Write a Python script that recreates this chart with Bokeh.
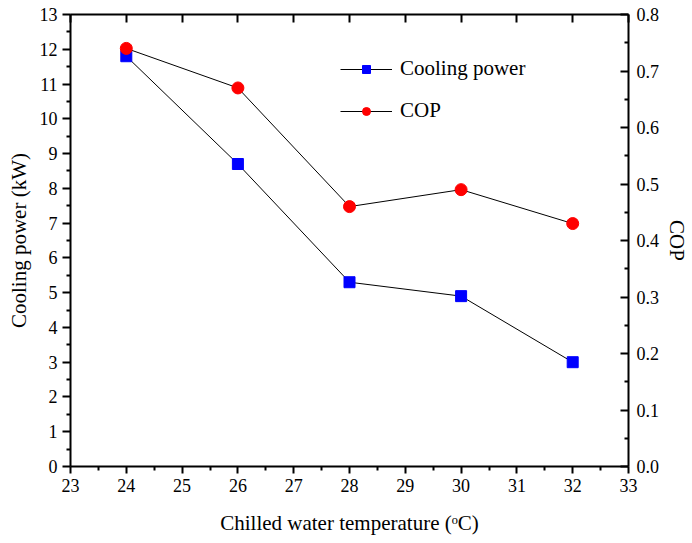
from bokeh.plotting import figure
from bokeh.models import LinearAxis, Range1d, Legend, LegendItem, FixedTicker, PrintfTickFormatter
from bokeh.embed import file_html
from bokeh.resources import INLINE

temperature = [24, 26, 28, 30, 32]
cooling_power = [11.8, 8.7, 5.3, 4.9, 3.0]
cop = [0.74, 0.67, 0.46, 0.49, 0.43]

FONT = "Liberation Serif"

p = figure(width=692, height=543, output_backend="svg", toolbar_location=None,
           x_range=Range1d(23, 33), y_range=Range1d(0, 13),
           min_border_left=70, min_border_right=61, min_border_top=14, min_border_bottom=77)
p.extra_y_ranges = {"cop": Range1d(0, 0.8)}
p.grid.visible = False
p.outline_line_color = None
p.background_fill_color = "white"
p.border_fill_color = "white"

def style(ax):
    ax.axis_line_width = 2
    ax.axis_line_color = "black"
    ax.major_tick_line_width = 2
    ax.minor_tick_line_width = 2
    ax.major_label_text_font = "Times New Roman"
    ax.major_label_text_font_style = "normal"
    ax.major_label_text_font_size = "18px"
    ax.major_label_text_color = "black"
    ax.axis_label_text_font = FONT
    ax.axis_label_text_font_size = "21px"
    ax.axis_label_text_font_style = "normal"
    ax.axis_label_text_color = "black"

xa = p.xaxis[0]
style(xa)
xa.ticker = FixedTicker(ticks=list(range(23, 34)), minor_ticks=[23.5 + i for i in range(10)])
xa.major_tick_out = 7
xa.major_tick_in = 0
xa.minor_tick_out = 4
xa.minor_tick_in = 0
xa.major_label_standoff = 5
xa.axis_label = "Chilled water temperature (ᵒC)"
xa.axis_label_standoff = 16

ya = p.yaxis[0]
style(ya)
ya.ticker = FixedTicker(ticks=list(range(0, 14)), minor_ticks=[0.5 + i for i in range(13)])
ya.major_tick_out = 8
ya.major_tick_in = 0
ya.minor_tick_out = 4
ya.minor_tick_in = 0
ya.major_label_standoff = 5
ya.axis_label = "Cooling power (kW)"
ya.axis_label_standoff = 6

ra = LinearAxis(y_range_name="cop")
style(ra)
ra.ticker = FixedTicker(ticks=[i / 10 for i in range(9)], minor_ticks=[0.05 + i / 10 for i in range(8)])
ra.formatter = PrintfTickFormatter(format="%.1f")
ra.major_tick_in = 8
ra.major_tick_out = 0
ra.minor_tick_in = 4
ra.minor_tick_out = 0
ra.major_label_standoff = 8
ra.axis_label = "COP"
ra.axis_label_standoff = 3
p.add_layout(ra, "right")

ta = LinearAxis()
style(ta)
ta.ticker = FixedTicker(ticks=list(range(23, 34)), minor_ticks=[])
ta.major_tick_in = 8
ta.major_tick_out = 0
ta.major_label_text_font_size = "0px"
ta.major_label_text_alpha = 0
p.add_layout(ta, "above")

l1 = p.line(temperature, cooling_power, line_color="black", line_width=1)
s1 = p.scatter(temperature, cooling_power, marker="square", size=11, fill_color="blue", line_color="blue")
l2 = p.line(temperature, cop, line_color="black", line_width=1, y_range_name="cop")
s2 = p.scatter(temperature, cop, marker="circle", size=12, fill_color="red", line_color="red", y_range_name="cop")

legend = Legend(items=[LegendItem(label="Cooling power", renderers=[l1, s1]),
                       LegendItem(label="COP", renderers=[l2, s2])],
                location=(270, 343))
legend.border_line_color = None
legend.background_fill_alpha = 0
legend.label_text_font = FONT
legend.label_text_font_size = "21px"
legend.label_text_color = "black"
legend.glyph_width = 52
legend.glyph_height = 20
legend.spacing = 17
legend.label_standoff = 8
legend.padding = 0
p.add_layout(legend, "center")

open("out.html", "w").write(file_html(p, INLINE))
